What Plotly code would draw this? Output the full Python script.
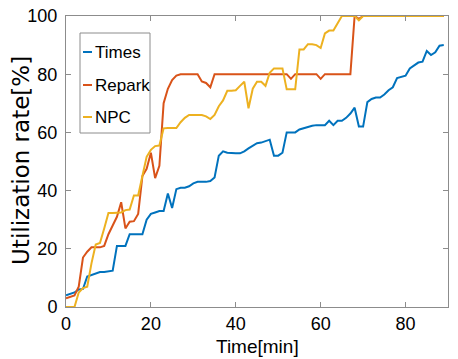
import plotly.graph_objects as go

time_min = list(range(90))

times = [4, 4.5, 5, 6, 6.2, 10.5, 11, 11.5, 12, 12, 12.3, 12.5, 21, 21, 21, 25, 25, 25, 25, 30,
         32, 32.5, 33, 33, 39, 34, 40.5, 41, 41, 41.5, 42.5, 43, 43, 43, 43.3, 44.5, 52, 53.5, 53, 52.8,
         52.8, 52.8, 53.5, 54.5, 55.5, 56.3, 56.5, 57, 57.5, 52, 52, 53, 60, 60, 60, 61, 61.5, 62, 62.3, 62.5,
         62.5, 62.5, 64, 62.5, 64, 64, 65, 66.5, 68.5, 62, 62, 70.4, 71.5, 72, 72, 73, 74.5, 75.5, 78.7, 79.2,
         79.5, 82, 83, 84, 84.3, 88, 86.6, 87.5, 89.8, 90]

repark = [3, 3.5, 4, 7, 17, 19, 20.5, 20.5, 20.5, 21, 25, 28, 31, 36, 27, 29.3, 29.5, 32, 45, 47.5,
          53, 44.3, 48.5, 70, 75, 78, 79.5, 80, 80, 80, 80, 80, 77.5, 77, 75.5, 80, 80, 80, 80, 80,
          80, 80, 80, 80, 80, 80, 80, 80, 80, 80, 80, 80, 80, 78.4, 80, 80, 80, 80, 80, 80,
          78.4, 80, 80, 80, 80, 80, 80, 80, 100, 99, 100, 100, 100, 100, 100, 100, 100, 100, 100, 100,
          100, 100, 100, 100, 100, 100, 100, 100, 100, 100]

npc = [0, 0, 0, 5, 6.5, 7, 15, 21.5, 22, 27, 32.3, 32.3, 32.3, 32.5, 33.3, 33.5, 38.3, 38.3, 45, 51.6,
       54, 55.3, 55.5, 61.4, 61.5, 61.5, 61.5, 63.5, 65, 66, 66, 66, 66, 65.5, 64.6, 66, 69, 71, 74.3, 74.3,
       74.5, 76, 77.4, 68.3, 75, 77.4, 77.4, 76, 80.5, 82, 82, 82, 74.8, 74.8, 74.8, 88.5, 88.5, 90.3, 90.3, 90,
       89, 94, 95, 95, 97.5, 100, 100, 100, 100, 98.5, 100, 100, 100, 100, 100, 100, 100, 100, 100, 100,
       100, 100, 100, 100, 100, 100, 100, 100, 100, 100]

series_names = ["Times", "Repark", "NPC"]
series_values = [times, repark, npc]
series_colors = ["#0072BD", "#D95319", "#EDB120"]

x_ticks = [0, 20, 40, 60, 80]
y_ticks = [0, 20, 40, 60, 80, 100]

FONT = "Liberation Sans, Arial, sans-serif"
AX = "#8c8c8c"

# plot-area pixel geometry (for the hand-made legend box)
L, R, T, B, W, H = 66, 10, 16, 52, 458, 359
PW, PH = W - L - R, H - T - B


def px_x(p):
    return (p - L) / PW


def px_y(p):
    return (H - B - p) / PH


fig = go.Figure()
for name, vals, col in zip(series_names, series_values, series_colors):
    fig.add_trace(go.Scatter(x=time_min, y=vals, mode="lines", name=name,
                             line=dict(color=col, width=2), showlegend=False))

shapes = [dict(type="rect", xref="paper", yref="paper", layer="above",
               x0=px_x(80), x1=px_x(150), y0=px_y(133), y1=px_y(33),
               fillcolor="white", line=dict(color=AX, width=1))]
annotations = []
entry_y = [52, 85, 117]
for name, col, ey in zip(series_names, series_colors, entry_y):
    shapes.append(dict(type="line", xref="paper", yref="paper", layer="above",
                       x0=px_x(83), x1=px_x(92), y0=px_y(ey), y1=px_y(ey),
                       line=dict(color=col, width=2)))
    annotations.append(dict(text=name, xref="paper", yref="paper", x=px_x(93), y=px_y(ey),
                            xanchor="left", yanchor="middle", showarrow=False,
                            xshift=0, font=dict(size=17, family=FONT, color="black")))

annotations += [
    dict(text="Time[min]", xref="paper", yref="paper", x=0.5, y=-0.178,
         xanchor="center", yanchor="bottom", showarrow=False,
         font=dict(size=19, family=FONT)),
    dict(text="Utilization rate[%]", xref="paper", yref="paper", x=-0.118, y=0.505,
         xanchor="center", yanchor="middle", textangle=-90, showarrow=False,
         font=dict(size=23, family="DejaVu Sans, sans-serif")),
]

fig.update_layout(
    width=W, height=H,
    margin=dict(l=L, r=R, t=T, b=B),
    paper_bgcolor="white", plot_bgcolor="white",
    font=dict(family=FONT, color="black", size=18),
    showlegend=False,
    xaxis=dict(range=[0, 90], tickvals=x_ticks, ticks="inside", ticklen=5, tickcolor=AX,
               showline=True, linecolor=AX, linewidth=1, mirror="ticks", showgrid=False,
               zeroline=False, automargin=False),
    yaxis=dict(range=[0, 100], tickvals=y_ticks, ticks="inside", ticklen=5, tickcolor=AX,
               showline=True, linecolor=AX, linewidth=1, mirror="ticks", showgrid=False,
               zeroline=False, automargin=False, ticklabelstandoff=4),
    shapes=shapes,
    annotations=annotations,
)

fig.write_html("out.html", config={"displayModeBar": False})

with open("out.html", "r", encoding="utf-8") as f:
    html = f.read()
html = html.replace("<head>", "<head><style>html,body{margin:0;padding:0;overflow:hidden;}</style>", 1)
with open("out.html", "w", encoding="utf-8") as f:
    f.write(html)
